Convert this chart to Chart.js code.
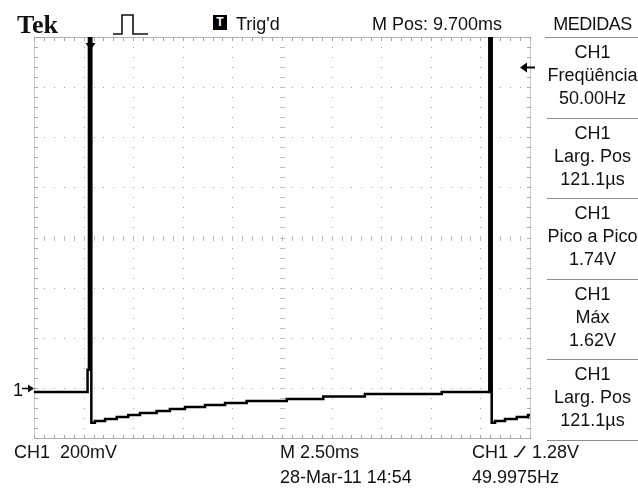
<!DOCTYPE html>
<html>
<head>
<meta charset="utf-8">
<title>Tek CH1</title>
<script src="https://cdn.jsdelivr.net/npm/chart.js@4.4.1/dist/chart.umd.min.js"></script>
<style>
  body { margin: 0; background: #fff; }
  #scope { position: relative; width: 638px; height: 489px; overflow: hidden;
           font-family: "Liberation Sans", Arial, sans-serif; font-size: 18px; line-height: 18px; color: #111; }
  #scope canvas { position: absolute; left: 0; top: 0; }
  .lbl { position: absolute; white-space: pre; }
  .tek { font: bold 26px/26px "Liberation Serif", serif; }
  .tbox { position: absolute; left: 213px; top: 15px; width: 14px; height: 15px; background: #000; color: #fff;
          font: bold 12px/15px "Liberation Sans", sans-serif; text-align: center; }
  .side { position: absolute; left: 547px; width: 91px; text-align: center; white-space: pre; }
  .sep { position: absolute; left: 547px; width: 91px; height: 1px; background: #8c8c8c; }
</style>
</head>
<body>
<div id="scope">
  <canvas id="screen" width="638" height="489"></canvas>
  <div class="lbl tek" style="left:17px; top:12px">Tek</div>
  <svg style="position:absolute; left:111px; top:13px" width="40" height="24">
    <polyline points="2,21 11,21 11,2 22,2 22,21 37,21" fill="none" stroke="#111" stroke-width="1.6"/>
  </svg>
  <div class="tbox">T</div>
  <div class="lbl" style="left:236px; top:15px">Trig'd</div>
  <div class="lbl" id="mpos" style="left:372px; top:15px"></div>
  <div class="side" style="top:15px; letter-spacing:-0.5px">MEDIDAS</div>
  <div class="sep" style="top:37px; left:545px; width:93px"></div>
  <div id="panel"></div>
  <div class="lbl" id="chScale" style="left:14px; top:443px"></div>
  <div class="lbl" id="timebase" style="left:280px; top:443px"></div>
  <div class="lbl" id="stamp" style="left:280px; top:468px"></div>
  <div class="lbl" id="trigInfo" style="left:472px; top:443px"></div>
  <div class="lbl" id="trigFreq" style="left:472px; top:468px"></div>
</div>
<script>
// CH1 trace, step points of the record (time in ms, level in V)
const timeMs = [0, 2.70, 2.77, 2.89, 3.07, 3.58, 4.17, 4.75, 5.34, 6.18, 6.85, 7.61, 8.62,
                9.63, 10.72, 12.74, 14.58, 16.68, 20.55, 22.95, 23.07, 23.24, 23.74, 24.33, 24.90, 25.0];
const volts = [-0.016, 0.072, 1.62, -0.139, -0.132, -0.124, -0.116, -0.108, -0.100, -0.092, -0.084, -0.076, -0.068,
               -0.060, -0.052, -0.044, -0.034, -0.024, -0.016, 1.62, -0.139, -0.132, -0.124, -0.116, -0.108, -0.108];

// readouts
const measureSource = ['CH1', 'CH1', 'CH1', 'CH1', 'CH1'];
const measureNames = ['Freqüência', 'Larg. Pos', 'Pico a Pico', 'Máx', 'Larg. Pos'];
const measureValues = ['50.00Hz', '121.1µs', '1.74V', '1.62V', '121.1µs'];

const msPerDiv = 2.5;
const voltsPerDiv = 0.2;
const xDivs = 10;
const yDivs = 8;
const yBottom = -0.2;
const trigTime = 2.8;
const trigLevel = 1.28;
const horizPos = '9.700ms';
const trigFreq = '49.9975Hz';
const dateStamp = '28-Mar-11 14:54';

// measurement column
const panel = document.getElementById('panel');
measureNames.forEach((name, k) => {
  const top = 37 + 80.5 * k;
  [measureSource[k], name, measureValues[k]].forEach((txt, j) => {
    const d = document.createElement('div');
    d.className = 'side';
    d.style.top = (top + 6 + 23 * j) + 'px';
    d.textContent = txt;
    panel.appendChild(d);
  });
  const s = document.createElement('div');
  s.className = 'sep';
  s.style.top = Math.round(top + 80.5) + 'px';
  panel.appendChild(s);
});

document.getElementById('mpos').textContent = 'M Pos: ' + horizPos;
document.getElementById('chScale').textContent = 'CH1  ' + (voltsPerDiv * 1000) + 'mV';
document.getElementById('timebase').textContent = 'M ' + msPerDiv.toFixed(2) + 'ms';
document.getElementById('stamp').textContent = dateStamp;
document.getElementById('trigFreq').textContent = trigFreq;
document.getElementById('trigInfo').innerHTML = 'CH1 <svg width="14" height="13" style="vertical-align:baseline">' +
  '<polyline points="1,11.5 4.5,11.5 12,1" fill="none" stroke="#111" stroke-width="1.6"/></svg> ' +
  trigLevel.toFixed(2) + 'V';

// dotted graticule with ruled centre lines and border
const graticule = {
  id: 'graticule',
  beforeDatasetsDraw(chart) {
    const { ctx, chartArea: a, scales: { x, y } } = chart;
    const xs = [], ys = [];
    for (let i = 0; i <= xDivs * 5; i++) xs.push(Math.round(x.getPixelForValue(i * msPerDiv / 5)));
    for (let j = 0; j <= yDivs * 5; j++) ys.push(Math.round(y.getPixelForValue(yBottom + j * voltsPerDiv / 5)));
    ctx.save();
    ctx.fillStyle = '#a8a8a8';
    for (let i = 5; i < xDivs * 5; i += 5) ys.forEach(py => ctx.fillRect(xs[i], py, 1, 1));
    for (let j = 5; j < yDivs * 5; j += 5) xs.forEach(px => ctx.fillRect(px, ys[j], 1, 1));
    // centre cross ticks
    const cx = xs[xDivs * 5 / 2], cy = ys[yDivs * 5 / 2];
    ctx.fillStyle = '#bdbdbd';
    ys.forEach(py => ctx.fillRect(cx - 2, py, 5, 1));
    xs.forEach(px => ctx.fillRect(px, cy - 2, 1, 5));
    // border with inward ticks
    ctx.fillStyle = '#b0b0b0';
    ctx.fillRect(a.left, a.top, a.right - a.left, 1);
    ctx.fillRect(a.left, a.bottom, a.right - a.left + 1, 1);
    ctx.fillStyle = '#c8c8c8';
    ctx.fillRect(a.left, a.top, 1, a.bottom - a.top);
    ctx.fillRect(a.right, a.top, 1, a.bottom - a.top);
    ctx.fillStyle = '#a8a8a8';
    xs.forEach(px => { ctx.fillRect(px, a.top, 1, 4); ctx.fillRect(px, a.bottom - 3, 1, 4); });
    ys.forEach(py => { ctx.fillRect(a.left, py, 4, 1); ctx.fillRect(a.right - 3, py, 4, 1); });
    ctx.restore();
  }
};

// ground, trigger position and trigger level markers
const markers = {
  id: 'markers',
  afterDatasetsDraw(chart) {
    const { ctx, chartArea: a, scales: { x, y } } = chart;
    ctx.save();
    ctx.fillStyle = '#000';
    ctx.strokeStyle = '#000';
    // trigger position
    const tx = Math.round(x.getPixelForValue(trigTime)) + 0.5;
    ctx.lineWidth = 2;
    ctx.beginPath(); ctx.moveTo(tx, a.top); ctx.lineTo(tx, a.top + 8); ctx.stroke();
    ctx.beginPath(); ctx.moveTo(tx - 5, a.top + 6); ctx.lineTo(tx + 5, a.top + 6); ctx.lineTo(tx, a.top + 13); ctx.closePath(); ctx.fill();
    // trigger level
    const ty = Math.round(y.getPixelForValue(trigLevel)) + 0.5;
    ctx.beginPath(); ctx.moveTo(a.right - 3, ty); ctx.lineTo(a.right + 5, ty); ctx.stroke();
    ctx.beginPath(); ctx.moveTo(a.right - 10, ty); ctx.lineTo(a.right - 3, ty - 5); ctx.lineTo(a.right - 3, ty + 5); ctx.closePath(); ctx.fill();
    // channel 1 ground
    const gy = Math.round(y.getPixelForValue(0)) + 0.5;
    ctx.font = '18px "Liberation Sans", Arial, sans-serif';
    ctx.fillStyle = '#111';
    ctx.fillText('1', 13, gy + 7);
    ctx.lineWidth = 1.5;
    ctx.beginPath(); ctx.moveTo(22, gy); ctx.lineTo(a.left - 1, gy); ctx.stroke();
    ctx.beginPath(); ctx.moveTo(a.left, gy); ctx.lineTo(a.left - 6, gy - 4); ctx.lineTo(a.left - 6, gy + 4); ctx.closePath(); ctx.fill();
    ctx.restore();
  }
};

new Chart(document.getElementById('screen'), {
  type: 'line',
  data: {
    datasets: [{
      label: 'CH1',
      data: timeMs.map((t, i) => ({ x: t, y: volts[i] })),
      borderColor: '#000',
      borderWidth: 2.5,
      pointRadius: 0,
      stepped: true,
      fill: false
    }]
  },
  options: {
    responsive: false,
    animation: false,
    layout: { padding: { left: 34, top: 37, right: 108, bottom: 51 } },
    scales: {
      x: { type: 'linear', min: 0, max: xDivs * msPerDiv, display: false },
      y: { min: yBottom, max: yBottom + yDivs * voltsPerDiv, display: false }
    },
    plugins: {
      legend: { display: false },
      tooltip: { enabled: false }
    }
  },
  plugins: [graticule, markers]
});
</script>
</body>
</html>
